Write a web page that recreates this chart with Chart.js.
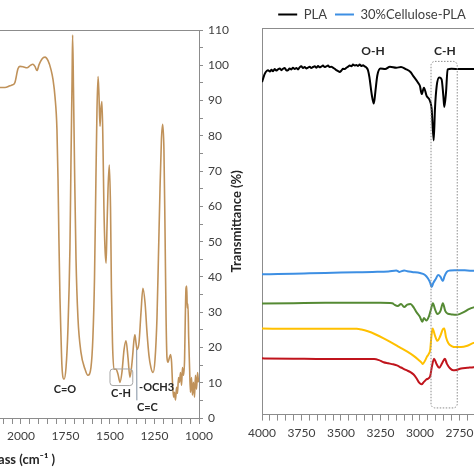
<!DOCTYPE html>
<html>
<head>
<meta charset="utf-8">
<script src="https://cdn.jsdelivr.net/npm/chart.js@4.4.1/dist/chart.umd.min.js"></script>
<style>
  html, body { margin: 0; padding: 0; background: #fff; }
  #frame { position: relative; width: 474px; height: 474px; overflow: hidden; }
  .panel { position: absolute; top: 0; height: 474px; }
  #leftBox { left: -146px; width: 375px; }
  #rightBox { left: 225px; width: 314px; }
</style>
</head>
<body>
<div id="frame">
  <div class="panel" id="leftBox"><canvas id="leftChart"></canvas></div>
  <div class="panel" id="rightBox"><canvas id="rightChart"></canvas></div>
</div>
<script>
// left panel: single spectrum, wavenumber (cm-1) vs transmittance (%)
const leftWn = [2118, 2090, 2062, 2045, 2034, 2017, 2006, 1989, 1966, 1949, 1933, 1921, 1910, 1899, 1882, 1865, 1848, 1831, 1820, 1809,
  1798, 1792, 1787, 1781, 1775, 1770, 1758, 1747, 1736, 1725, 1719, 1713, 1710, 1705, 1699, 1691, 1680, 1663, 1640, 1624,
  1607, 1596, 1587, 1579, 1573, 1567, 1562, 1556, 1551, 1545, 1539, 1534, 1528, 1522, 1517, 1511, 1504, 1497, 1492, 1486,
  1478, 1466, 1455, 1444, 1433, 1421, 1410, 1399, 1388, 1376, 1365, 1360, 1354, 1348, 1337, 1326, 1315, 1303, 1292, 1281,
  1270, 1258, 1247, 1236, 1228, 1219, 1211, 1204, 1197, 1191, 1185, 1180, 1174, 1169, 1160, 1154, 1149, 1143, 1138, 1132,
  1126, 1121, 1115, 1110, 1104, 1098, 1093, 1087, 1081, 1077, 1073, 1069, 1066, 1062, 1058, 1053, 1048, 1042, 1037, 1031,
  1025, 1020, 1014, 1008, 1003];
const leftT = [93.7, 93.7, 94.2, 94.5, 95.1, 99.0, 99.7, 99.6, 99.3, 99.9, 100.3, 99.6, 98.5, 100.1, 101.8, 102.3, 101.3, 98.7, 95.9, 91.1,
  81.9, 67.8, 50.9, 34.0, 22.8, 14.9, 11.0, 14.3, 25.6, 48.1, 73.4, 95.9, 108.6, 93.1, 70.6, 45.3, 28.4, 18.6, 13.8, 12.1,
  14.3, 22.8, 39.7, 67.8, 87.5, 96.8, 91.7, 82.7, 87.5, 89.7, 76.2, 59.4, 48.1, 43.9, 53.7, 65.0, 71.7, 59.4, 36.8, 21.4,
  13.8, 13.8, 12.4, 10.1, 12.9, 19.4, 21.9, 17.2, 11.5, 15.8, 22.2, 23.6, 21.4, 19.4, 21.4, 29.8, 36.8, 32.6, 24.2, 17.7,
  14.3, 12.9, 16.6, 28.4, 45.3, 65.0, 79.0, 83.3, 76.2, 53.7, 28.4, 17.2, 15.8, 16.6, 18.0, 15.8, 10.1, 5.9, 7.3, 5.1,
  8.7, 7.0, 11.5, 10.1, 12.9, 9.3, 14.3, 12.1, 16.6, 28.4, 36.8, 37.4, 31.2, 32.3, 22.8, 14.3, 7.3, 11.5, 6.5, 10.1,
  5.9, 12.1, 8.2, 12.9, 10.1];
const leftXLabels = [1000, 1250, 1500, 1750, 2000, 2250, 2500, 2750];
const leftYLabels = [0, 10, 20, 30, 40, 50, 60, 70, 80, 90, 100, 110];

// right panel: stacked spectra
const seriesNames = ['PLA', '30%Cellulose-PLA', '', '', ''];
const plaWn = [4000, 3994, 3986, 3979, 3970, 3962, 3950, 3940, 3930, 3920, 3910, 3899, 3888, 3877, 3867, 3856, 3845, 3835, 3825, 3814,
  3804, 3793, 3782, 3772, 3762, 3751, 3740, 3730, 3720, 3709, 3698, 3688, 3677, 3666, 3655, 3645, 3635, 3625, 3614, 3603,
  3593, 3582, 3572, 3561, 3551, 3540, 3529, 3518, 3508, 3497, 3487, 3476, 3466, 3455, 3445, 3434, 3424, 3413, 3403, 3392,
  3382, 3371, 3360, 3350, 3340, 3329, 3320, 3305, 3292, 3282, 3270, 3250, 3220, 3190, 3150, 3120, 3090, 3060, 3042, 3013,
  3000, 2989, 2975, 2958, 2937, 2926, 2913, 2905, 2894, 2878, 2863, 2852, 2846, 2835, 2825, 2800, 2750, 2700, 2650, 2600,
  2500, 2400];
const plaT = [94.6, 95.4, 96.6, 97.3, 97.8, 98.0, 97.6, 98.1, 97.7, 98.3, 97.9, 98.2, 98.5, 98.0, 98.4, 98.6, 97.9, 98.0, 98.5, 98.2,
  98.7, 98.3, 98.6, 98.2, 98.8, 99.1, 98.6, 98.9, 98.5, 98.7, 99.0, 98.6, 98.9, 99.1, 98.7, 99.2, 98.8, 99.0, 99.3, 98.9,
  99.1, 99.3, 98.9, 99.0, 98.7, 98.4, 98.0, 97.7, 97.5, 97.9, 98.4, 98.3, 98.7, 99.0, 99.3, 99.1, 99.6, 99.3, 99.5, 99.2,
  99.6, 99.2, 99.4, 99.1, 98.8, 98.0, 96.0, 91.0, 88.5, 92.0, 96.5, 98.5, 98.3, 99.0, 98.7, 98.9, 98.3, 97.5, 96.3, 94.5,
  93.5, 91.2, 93.0, 90.7, 89.3, 87.0, 78.0, 87.0, 93.5, 95.9, 95.4, 90.7, 87.5, 91.7, 98.2, 98.4, 98.3, 98.3, 98.3, 98.3,
  98.3, 98.3];
const cel30Wn = [4000, 3900, 3800, 3700, 3600, 3500, 3400, 3300, 3200, 3150, 3130, 3100, 3080, 3050, 3000, 2970, 2950, 2935, 2926, 2915,
  2900, 2885, 2870, 2855, 2845, 2830, 2810, 2780, 2750, 2700, 2650, 2600, 2500, 2400];
const cel30T = [39.9, 40.0, 40.1, 40.2, 40.3, 40.4, 40.5, 40.6, 40.7, 41.0, 40.6, 41.0, 40.8, 40.6, 40.3, 39.8, 38.8, 37.5, 36.3, 37.5,
  38.6, 39.7, 39.2, 38.0, 39.3, 40.6, 41.0, 41.1, 41.1, 41.0, 40.9, 40.9, 40.8, 40.8];
const greenWn = [4000, 3800, 3600, 3400, 3250, 3175, 3160, 3140, 3120, 3100, 3080, 3060, 3040, 3020, 3000, 2985, 2975, 2960, 2942, 2930,
  2918, 2905, 2890, 2870, 2855, 2840, 2825, 2800, 2770, 2750, 2720, 2690, 2660, 2600, 2500, 2400];
const greenT = [31.6, 31.7, 31.8, 31.8, 31.8, 31.7, 31.2, 30.9, 31.5, 30.6, 31.3, 31.5, 30.5, 29.0, 27.8, 26.4, 27.5, 26.8, 28.1, 30.0,
  31.7, 30.0, 28.6, 29.5, 31.7, 29.5, 28.7, 28.5, 28.4, 28.6, 29.2, 30.0, 30.5, 31.0, 31.5, 31.8];
const yellowWn = [4000, 3800, 3600, 3400, 3370, 3330, 3280, 3230, 3180, 3130, 3080, 3040, 3010, 2990, 2982, 2970, 2955, 2945, 2935, 2928,
  2920, 2905, 2890, 2870, 2855, 2846, 2835, 2820, 2800, 2770, 2740, 2700, 2660, 2600, 2500, 2400];
const yellowT = [24.5, 24.4, 24.4, 24.4, 24.2, 23.7, 22.8, 21.7, 20.5, 19.2, 17.9, 16.7, 15.6, 14.8, 14.4, 15.2, 16.5, 17.2, 18.5, 22.0,
  24.5, 22.5, 21.0, 22.5, 24.3, 24.5, 22.0, 20.3, 19.5, 19.2, 19.2, 19.6, 20.4, 20.8, 21.2, 21.4];
const redWn = [4000, 3800, 3600, 3400, 3290, 3260, 3230, 3200, 3170, 3146, 3120, 3090, 3060, 3040, 3020, 3005, 2990, 2975, 2960, 2947,
  2935, 2925, 2911, 2895, 2878, 2860, 2842, 2830, 2810, 2790, 2770, 2740, 2700, 2660, 2600, 2500, 2400];
const redT = [16.0, 15.9, 15.8, 15.8, 15.8, 15.5, 14.9, 14.6, 14.3, 14.0, 13.4, 12.7, 12.1, 11.4, 10.2, 9.1, 8.6, 9.3, 10.0, 10.3,
  11.0, 13.5, 15.9, 14.4, 13.3, 14.6, 15.9, 14.5, 13.2, 12.6, 12.7, 13.1, 13.3, 13.5, 13.7, 14.0, 14.1];
const rightXLabels = [2500, 2750, 3000, 3250, 3500, 3750, 4000];

const axisGray = '#8c8c8c';
const textGray = '#404040';
Chart.defaults.font.family = 'Lato, "Liberation Sans", sans-serif';

const pts = (wn, t) => wn.map((w, i) => ({ x: w, y: t[i] }));

// tick marks every 50 / 5 units, labels only on the listed values
const minorTicks = (from, to, step) => {
  const out = [];
  for (let v = from; v <= to; v += step) out.push({ value: v });
  return out;
};

// annotation text / boxes / leader lines in data coordinates
function makeNotes(notes) {
  return {
    id: 'notes',
    afterDatasetsDraw(chart) {
      const { ctx, scales: { x, y } } = chart;
      ctx.save();
      (notes.boxes || []).forEach(b => {
        const x1 = x.getPixelForValue(b.x1), x2 = x.getPixelForValue(b.x2);
        const y1 = y.getPixelForValue(b.y1), y2 = y.getPixelForValue(b.y2);
        ctx.beginPath();
        ctx.setLineDash(b.dash || []);
        ctx.strokeStyle = b.color;
        ctx.lineWidth = 1;
        ctx.roundRect(Math.min(x1, x2), Math.min(y1, y2), Math.abs(x2 - x1), Math.abs(y2 - y1), b.radius);
        ctx.stroke();
      });
      ctx.setLineDash([]);
      (notes.lines || []).forEach(l => {
        ctx.beginPath();
        ctx.strokeStyle = l.color;
        ctx.lineWidth = 1;
        ctx.moveTo(x.getPixelForValue(l.x1), y.getPixelForValue(l.y1));
        ctx.lineTo(x.getPixelForValue(l.x2), y.getPixelForValue(l.y2));
        ctx.stroke();
      });
      (notes.texts || []).forEach(t => {
        ctx.font = 'bold ' + t.size + 'px Lato, sans-serif';
        ctx.fillStyle = '#262626';
        ctx.textAlign = 'center';
        ctx.textBaseline = 'middle';
        ctx.fillText(t.text, x.getPixelForValue(t.x), y.getPixelForValue(t.y));
      });
      ctx.restore();
    }
  };
}

const leftNotes = {
  texts: [
    { text: 'C=O', x: 1753, y: 8.2, size: 11 },
    { text: 'C-H', x: 1438, y: 7.0, size: 11 },
    { text: '-OCH3', x: 1238, y: 8.7, size: 11 },
    { text: 'C=C', x: 1290, y: 3.1, size: 11 }
  ],
  boxes: [{ x1: 1500, x2: 1372, y1: 13.9, y2: 9.2, color: '#a6a6a6', radius: 3 }],
  lines: [{ x1: 1350, y1: 19.5, x2: 1349, y2: 5.0, color: '#7f8fa0' }]
};
const rightNotes = {
  texts: [
    { text: 'O-H', x: 3297, y: 103.3, size: 12 },
    { text: 'C-H', x: 2842, y: 103.3, size: 12 }
  ],
  boxes: [{ x1: 2930, x2: 2764, y1: 100.5, y2: 1.9, color: axisGray, radius: 4, dash: [1.5, 1.5] }]
};

new Chart(document.getElementById('leftChart'), {
  type: 'line',
  data: {
    datasets: [{
      label: 'Spectrum',
      data: pts(leftWn, leftT),
      borderColor: '#c0925a',
      borderWidth: 1.6,
      pointRadius: 0,
      cubicInterpolationMode: 'monotone'
    }]
  },
  options: {
    responsive: true,
    maintainAspectRatio: false,
    animation: false,
    layout: { padding: { top: 30, bottom: 0, left: 0, right: 0 } },
    plugins: { legend: { display: false }, tooltip: { enabled: false } },
    scales: {
      x: {
        type: 'linear', reverse: true, min: 1000, max: 2938,
        afterBuildTicks: s => { s.ticks = minorTicks(1000, 2900, 50); },
        ticks: {
          autoSkip: false, maxRotation: 0, minRotation: 0, padding: 5, color: textGray, font: { size: 12 },
          callback: v => leftXLabels.includes(Math.round(v)) ? Math.round(v) : ''
        },
        grid: { drawOnChartArea: false, tickLength: 6, color: axisGray },
        border: { color: axisGray },
        title: { display: true, text: 'ass (cm⁻¹ )', color: '#262626', font: { size: 13, weight: 'bold' }, padding: { top: 4, bottom: 6 } }
      },
      xTop: {
        type: 'linear', position: 'top', reverse: true, min: 1000, max: 2938,
        ticks: { display: false }, grid: { display: false, drawTicks: false }, border: { color: axisGray }
      },
      y: {
        position: 'right', min: 0, max: 110,
        afterBuildTicks: s => { s.ticks = minorTicks(0, 110, 5); },
        afterFit: s => { s.width = 30; },
        ticks: {
          autoSkip: false, padding: 5, color: textGray, font: { size: 12 },
          callback: v => leftYLabels.includes(v) ? v : ''
        },
        grid: { drawOnChartArea: false, tickLength: 4, color: axisGray },
        border: { color: axisGray }
      }
    }
  },
  plugins: [makeNotes(leftNotes)]
});

const rightColors = ['#000000', '#3d8fe3', '#558a34', '#ffc000', '#c0141c'];
const rightSets = [pts(plaWn, plaT), pts(cel30Wn, cel30T), pts(greenWn, greenT), pts(yellowWn, yellowT), pts(redWn, redT)];

new Chart(document.getElementById('rightChart'), {
  type: 'line',
  data: {
    datasets: rightSets.map((d, i) => ({
      label: seriesNames[i],
      data: d,
      borderColor: rightColors[i],
      backgroundColor: rightColors[i],
      borderWidth: 2,
      pointRadius: 0,
      cubicInterpolationMode: 'monotone'
    }))
  },
  options: {
    responsive: true,
    maintainAspectRatio: false,
    animation: false,
    layout: { padding: { top: 0, bottom: 29, left: 0, right: 20 } },
    plugins: {
      tooltip: { enabled: false },
      legend: {
        position: 'top', align: 'center', maxHeight: 28,
        labels: {
          filter: item => item.datasetIndex < 2,
          usePointStyle: true, pointStyle: 'line', pointStyleWidth: 19,
          padding: 8, color: textGray, font: { size: 13 }
        }
      }
    },
    scales: {
      x: {
        type: 'linear', reverse: true, min: 2373, max: 4000,
        afterBuildTicks: s => { s.ticks = minorTicks(2400, 4000, 50); },
        ticks: {
          autoSkip: false, maxRotation: 0, minRotation: 0, padding: 5, color: textGray, font: { size: 12 },
          callback: v => rightXLabels.includes(Math.round(v)) ? Math.round(v) : ''
        },
        grid: { drawOnChartArea: false, tickLength: 6, color: axisGray },
        border: { color: axisGray }
      },
      xTop: {
        type: 'linear', position: 'top', reverse: true, min: 2373, max: 4000,
        ticks: { display: false }, grid: { display: false, drawTicks: false }, border: { color: axisGray }
      },
      y: {
        position: 'left', min: 0, max: 110,
        ticks: { display: false },
        grid: { display: false, drawTicks: false },
        border: { color: axisGray },
        title: { display: true, text: 'Transmittance (%)', color: '#262626', font: { size: 13, weight: 'bold' }, padding: { top: 4, bottom: 17.4 } }
      }
    }
  },
  plugins: [makeNotes(rightNotes)]
});
</script>
</body>
</html>
